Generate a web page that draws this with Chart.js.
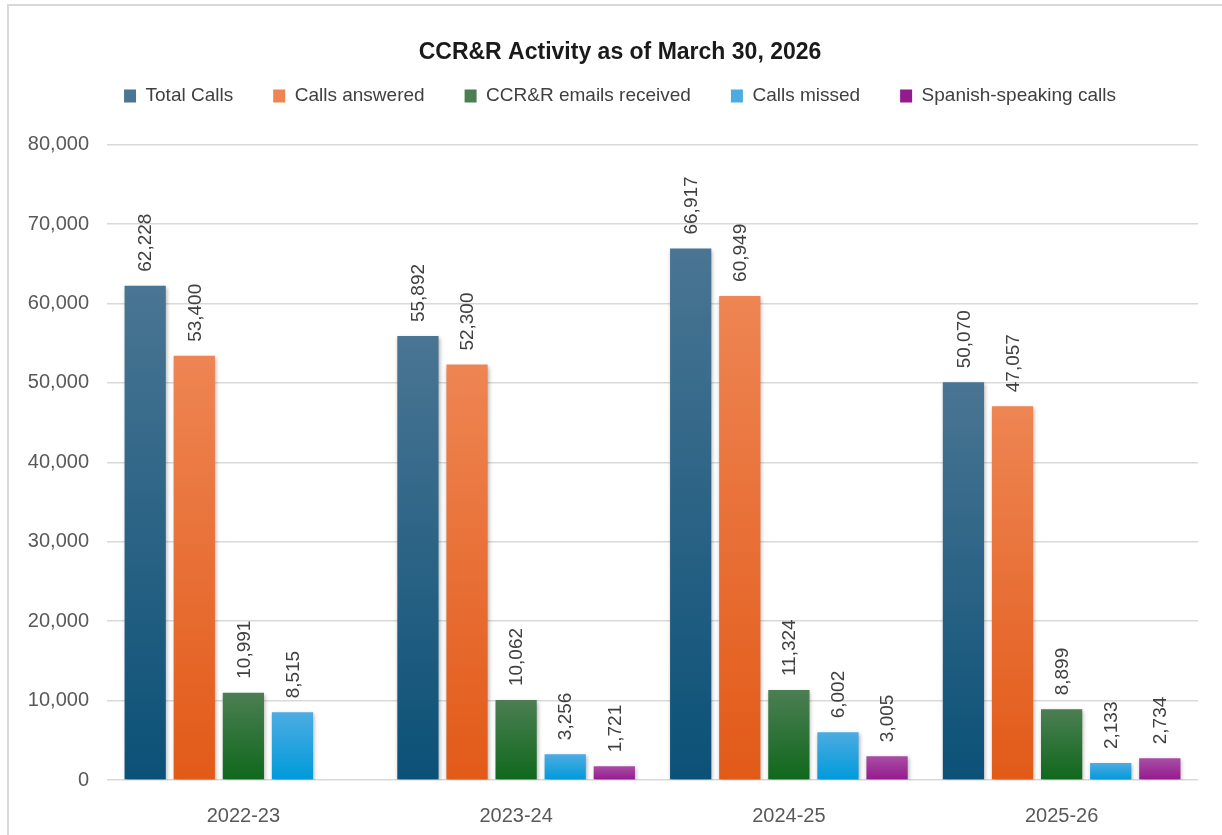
<!DOCTYPE html>
<html>
<head>
<meta charset="utf-8">
<script src="https://cdn.jsdelivr.net/npm/chart.js@4/dist/chart.umd.min.js"></script>
<style>
  html, body { margin: 0; padding: 0; background: #fff; overflow: hidden; }
  #wrap { position: relative; width: 1222px; height: 835px; overflow: hidden; }
  #frame {
    position: absolute; left: 7px; top: 4px; width: 1300px; height: 900px;
    border-left: 2px solid #d9d9d9; border-top: 2px solid #d9d9d9;
    pointer-events: none;
  }
</style>
</head>
<body>
<div id="wrap">
  <canvas id="chart" width="1222" height="835"></canvas>
  <div id="frame"></div>
</div>
<script>
// ---- data ----
const years = ["2022-23", "2023-24", "2024-25", "2025-26"];
const totalCalls = [62228, 55892, 66917, 50070];
const callsAnswered = [53400, 52300, 60949, 47057];
const emailsReceived = [10991, 10062, 11324, 8899];
const callsMissed = [8515, 3256, 6002, 2133];
const spanishCalls = [null, 1721, 3005, 2734];

const FONT = "'Liberation Sans', Arial, sans-serif";

// vertical gradient per bar, lighter at the top
function grad(top, bottom, solid) {
  return (c) => {
    if (c.type !== "data") return solid;
    const chart = c.chart;
    if (!chart.chartArea || !c.parsed || c.parsed.y == null) return bottom;
    const y = chart.scales.y;
    const y0 = y.getPixelForValue(c.parsed.y);
    const y1 = y.getPixelForValue(0);
    if (!isFinite(y0) || !isFinite(y1) || y0 === y1) return bottom;
    const g = chart.ctx.createLinearGradient(0, y0, 0, y1);
    g.addColorStop(0, top);
    g.addColorStop(1, bottom);
    return g;
  };
}

function ds(label, data, top, bottom, solid) {
  return {
    label,
    data,
    backgroundColor: grad(top, bottom, solid),
    borderWidth: 0,
    categoryPercentage: 0.9,
    barPercentage: 0.84,
  };
}

// extra room under the legend, and title/legend centred a bit to the right
const headerTweak = {
  id: "headerTweak",
  beforeInit(chart) {
    const fit = chart.legend.fit;
    chart.legend.fit = function () {
      fit.bind(chart.legend)();
      this.height += 29;
    };
  },
  afterLayout(chart) {
    chart.legend.left += 32;
    chart.titleBlock.left += 32;
  },
};

// shadow under bars + rotated value labels
const barExtras = {
  id: "barExtras",
  beforeDatasetsDraw(chart) {
    const ctx = chart.ctx;
    ctx.save();
    ctx.shadowColor = "rgba(0,0,0,0.3)";
    ctx.shadowBlur = 4;
    ctx.shadowOffsetX = 1;
    ctx.shadowOffsetY = 2;
  },
  afterDatasetsDraw(chart) {
    const ctx = chart.ctx;
    ctx.restore();
    ctx.save();
    ctx.font = "19px " + FONT;
    ctx.fillStyle = "#404040";
    ctx.textAlign = "left";
    ctx.textBaseline = "middle";
    chart.data.datasets.forEach((d, i) => {
      const meta = chart.getDatasetMeta(i);
      meta.data.forEach((el, j) => {
        const v = d.data[j];
        if (v == null) return;
        ctx.save();
        ctx.translate(el.x + 1, el.y - 14);
        ctx.rotate(-Math.PI / 2);
        ctx.fillText(v.toLocaleString("en-US"), 0, 0);
        ctx.restore();
      });
    });
    ctx.restore();
  },
};

new Chart(document.getElementById("chart"), {
  type: "bar",
  data: {
    labels: years,
    datasets: [
      ds("Total Calls", totalCalls, "#4a7593", "#0b5177", "#1d5b80"),
      ds("Calls answered", callsAnswered, "#ee8553", "#e25a18", "#ef6e2e"),
      ds("CCR&R emails received", emailsReceived, "#4c7e53", "#0f681c", "#1a6b25"),
      ds("Calls missed", callsMissed, "#4cace2", "#009ada", "#1aa2e0"),
      ds("Spanish-speaking calls", spanishCalls, "#a84ea3", "#95198f", "#a0259a"),
    ],
  },
  options: {
    responsive: false,
    animation: false,
    layout: { padding: { top: 29, left: 10, right: 24, bottom: 0 } },
    plugins: {
      title: {
        display: true,
        text: "CCR&R Activity as of March 30, 2026",
        color: "#1a1a1a",
        font: { family: FONT, size: 23, weight: "bold" },
        padding: { top: 10, bottom: -20 },
      },
      legend: {
        position: "top",
        labels: {
          color: "#404040",
          font: { family: FONT, size: 19 },
          boxWidth: 12,
          boxHeight: 13,
          padding: 40,
        },
      },
      tooltip: { enabled: false },
    },
    scales: {
      x: {
        grid: { display: false },
        border: { display: false },
        ticks: { color: "#595959", font: { family: FONT, size: 20 }, padding: 16 },
        afterFit(s) { s.height = 55; },
      },
      y: {
        min: 0,
        max: 80000,
        grid: { color: "#d9d9d9", lineWidth: 1.5, drawTicks: false },
        border: { display: false },
        ticks: {
          stepSize: 10000,
          color: "#595959",
          font: { family: FONT, size: 20 },
          padding: 18,
          callback: (v) => v.toLocaleString("en-US"),
        },
        afterFit(s) { s.width = 97; },
      },
    },
  },
  plugins: [headerTweak, barExtras],
});
</script>
</body>
</html>
